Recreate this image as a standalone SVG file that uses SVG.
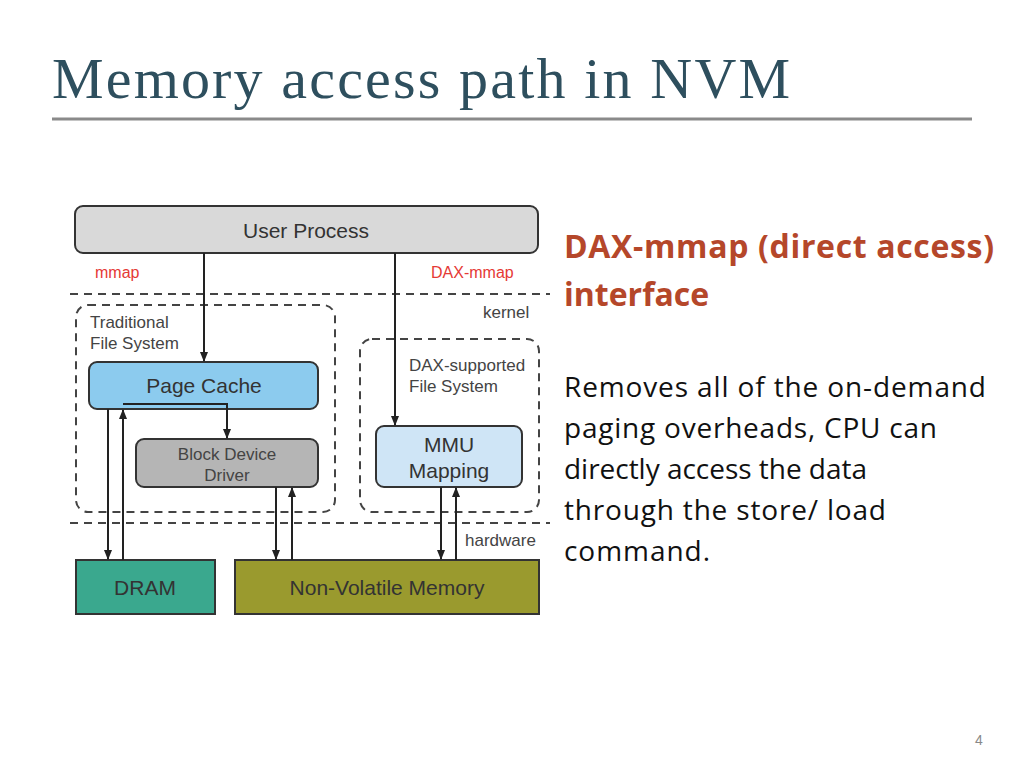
<svg xmlns="http://www.w3.org/2000/svg" width="1024" height="768" viewBox="0 0 1024 768">
<style>
.lbl{font-family:"Liberation Sans",Arial,sans-serif;font-size:21px;fill:#333;}
.sm{font-family:"Liberation Sans",Arial,sans-serif;font-size:17px;fill:#444;}
.red{font-family:"Liberation Sans",Arial,sans-serif;font-size:16px;fill:#e53935;}
.box{stroke:#333;stroke-width:2;}
.dash{fill:none;stroke:#444;stroke-width:2;stroke-dasharray:8,6;}
.c{fill:none;stroke:#222;stroke-width:2;}
.body{font-family:"Open Sans","Liberation Sans",sans-serif;font-size:28px;fill:#111;}
.head{font-family:"Open Sans","Liberation Sans",sans-serif;font-size:32px;font-weight:bold;fill:#b5472a;}
</style>
<defs><marker id="a" markerWidth="10" markerHeight="10" refX="9" refY="5" orient="auto" markerUnits="userSpaceOnUse"><path d="M0,1 L10,5 L0,9 z" fill="#222"/></marker></defs>
<rect width="1024" height="768" fill="#fff"/>
<text x="52" y="98" font-family="Liberation Serif,serif" font-size="58" fill="#2e4f5e" textLength="738">Memory access path in NVM</text>
<line x1="52" y1="119" x2="972" y2="119" stroke="#8a8a8a" stroke-width="3"/>
<g id="dividers">
<line x1="70" y1="294" x2="550" y2="294" class="dash"/>
<line x1="70" y1="523" x2="550" y2="523" class="dash"/>
<rect x="76" y="305" width="259" height="207" rx="12" class="dash"/>
<rect x="360" y="339" width="179" height="173" rx="12" class="dash"/>
<text x="90" y="328" class="sm">Traditional</text><text x="90" y="349" class="sm">File System</text>
<text x="409" y="371" class="sm">DAX-supported</text><text x="409" y="392" class="sm">File System</text>
<text x="483" y="318" class="sm">kernel</text><text x="465" y="546" class="sm">hardware</text>
<text x="95" y="278" class="red">mmap</text><text x="431" y="278" class="red">DAX-mmap</text>
</g>
<g id="user"><rect x="75" y="206" width="463" height="47" rx="8" fill="#d9d9d9" class="box"/><text x="306" y="238" text-anchor="middle" class="lbl">User Process</text></g>
<g id="pagecache"><rect x="89" y="362" width="229" height="47" rx="8" fill="#8ccbee" class="box"/><text x="204" y="393" text-anchor="middle" class="lbl">Page Cache</text></g>
<g id="block"><rect x="136" y="439" width="182" height="48" rx="8" fill="#b5b5b5" class="box"/><text x="227" y="460" text-anchor="middle" class="sm">Block Device</text><text x="227" y="481" text-anchor="middle" class="sm">Driver</text></g>
<g id="mmu"><rect x="376" y="426" width="146" height="61" rx="8" fill="#cfe5f6" class="box"/><text x="449" y="452" text-anchor="middle" class="lbl">MMU</text><text x="449" y="478" text-anchor="middle" class="lbl">Mapping</text></g>
<g id="dram"><rect x="76" y="560" width="139" height="54" fill="#3aa88e" class="box"/><text x="145" y="595" text-anchor="middle" class="lbl">DRAM</text></g>
<g id="nvm"><rect x="235" y="560" width="304" height="54" fill="#9a9a2e" class="box"/><text x="387" y="595" text-anchor="middle" class="lbl">Non-Volatile Memory</text></g>
<g id="connectors">
<line x1="204" y1="253" x2="204" y2="361" class="c" marker-end="url(#a)"/>
<line x1="395" y1="253" x2="395" y2="425" class="c" marker-end="url(#a)"/>
<line x1="108" y1="409" x2="108" y2="559" class="c" marker-end="url(#a)"/>
<line x1="123" y1="560" x2="123" y2="410" class="c" marker-end="url(#a)"/>
<path d="M123,404 H227 V438" class="c" marker-end="url(#a)"/>
<line x1="276" y1="487" x2="276" y2="559" class="c" marker-end="url(#a)"/>
<line x1="292" y1="560" x2="292" y2="488" class="c" marker-end="url(#a)"/>
<line x1="441" y1="487" x2="441" y2="559" class="c" marker-end="url(#a)"/>
<line x1="456" y1="560" x2="456" y2="488" class="c" marker-end="url(#a)"/>
</g>
<text x="564" y="258" class="head" textLength="430">DAX-mmap (direct access)</text>
<text x="564" y="306" class="head">interface</text>
<text x="564" y="397" class="body" textLength="422">Removes all of the on-demand</text>
<text x="564" y="438" class="body" textLength="373">paging overheads, CPU can</text>
<text x="564" y="479" class="body" textLength="303">directly access the data</text>
<text x="564" y="520" class="body" textLength="322">through the store/ load</text>
<text x="564" y="561" class="body" textLength="146">command.</text>
<text x="975" y="745" font-family="Liberation Sans,sans-serif" font-size="14" fill="#888">4</text>
</svg>
